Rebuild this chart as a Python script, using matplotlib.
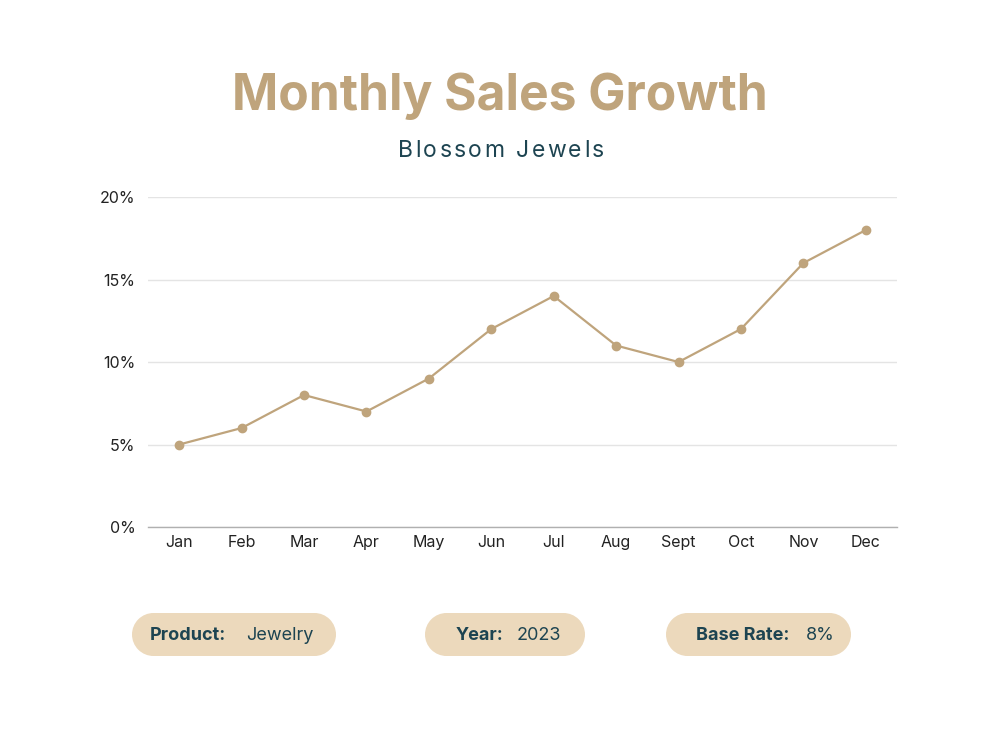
import matplotlib
matplotlib.use("Agg")
import matplotlib.pyplot as plt
from matplotlib.patches import Rectangle, Circle
from matplotlib.ticker import FuncFormatter

# data
months = ["Jan", "Feb", "Mar", "Apr", "May", "Jun", "Jul", "Aug", "Sept", "Oct", "Nov", "Dec"]
growth = [5, 6, 8, 7, 9, 12, 14, 11, 10, 12, 16, 18]
y_ticks = [0, 5, 10, 15, 20]

badge_labels = ["Product:", "Year:", "Base Rate:"]
badge_values = ["Jewelry", "2023", "8%"]

gold = "#bfa47c"
teal = "#1d4451"
pill = "#ecd9bc"

plt.rcParams["font.family"] = ["Inter", "DejaVu Sans"]

fig = plt.figure(figsize=(10, 7.5), dpi=100)
fig.patch.set_facecolor("white")

ax = fig.add_axes([0.148, 0.2973, 0.749, 0.44])
x = list(range(len(months)))
ax.plot(x, growth, color=gold, linewidth=1.6, marker="o", markersize=6, zorder=3)
ax.set_xlim(-0.5, len(months) - 0.5)
ax.set_ylim(0, 20)
ax.set_xticks(x)
ax.set_xticklabels(months)
ax.set_yticks(y_ticks)
ax.yaxis.set_major_formatter(FuncFormatter(lambda v, p: f"{v:.0f}%"))
ax.tick_params(axis="both", length=0, labelsize=11.5, colors="#222222")
ax.tick_params(axis="x", pad=6)
ax.tick_params(axis="y", pad=9)
ax.grid(axis="y", color="#e4e4e4", linewidth=1)
ax.set_axisbelow(True)
for s in ["top", "right", "left"]:
    ax.spines[s].set_visible(False)
ax.spines["bottom"].set_color("#b0b0b0")
ax.spines["bottom"].set_linewidth(1)

# titles
fig.text(0.5, 1 - 96 / 750, "Monthly Sales Growth", ha="center", va="center",
         fontsize=35.8, fontweight="bold", color=gold)

# subtitle with letter spacing
sub = "Blossom Jewels"
renderer = fig.canvas.get_renderer()
sub_size = 16.5
spacing = 2.3  # px between letters
widths = []
for ch in sub:
    t = fig.text(0, 0, ch if ch != " " else "n", fontsize=sub_size)
    w = t.get_window_extent(renderer).width
    if ch == " ":
        w *= 0.55
    widths.append(w)
    t.remove()
total = sum(widths) + spacing * (len(sub) - 1)
cx = 501 - total / 2
for ch, w in zip(sub, widths):
    if ch != " ":
        fig.text(cx / 1000, 1 - 151 / 750, ch, ha="left", va="center",
                 fontsize=sub_size, color=teal)
    cx += w + spacing

# badges (stadium shapes)
ov = fig.add_axes([0, 0, 1, 1], zorder=-1)
ov.set_xlim(0, 1000)
ov.set_ylim(750, 0)
ov.axis("off")

pill_x = [132, 425, 666]
pill_w = [204, 160, 185]
label_x = [150, 456, 696]
value_x = [246, 517, 806]
top, h = 613, 43
r = h / 2
for px, pw, lx, vx, lab, val in zip(pill_x, pill_w, label_x, value_x, badge_labels, badge_values):
    ov.add_patch(Rectangle((px + r, top), pw - 2 * r, h, facecolor=pill, edgecolor="none"))
    ov.add_patch(Circle((px + r, top + r), r, facecolor=pill, edgecolor="none"))
    ov.add_patch(Circle((px + pw - r, top + r), r, facecolor=pill, edgecolor="none"))
    ov.text(lx, 635, lab, ha="left", va="center", fontsize=13,
            fontweight="bold", color=teal)
    ov.text(vx, 635, val, ha="left", va="center", fontsize=13, color=teal)

fig.savefig("out.png", dpi=100, facecolor="white")
